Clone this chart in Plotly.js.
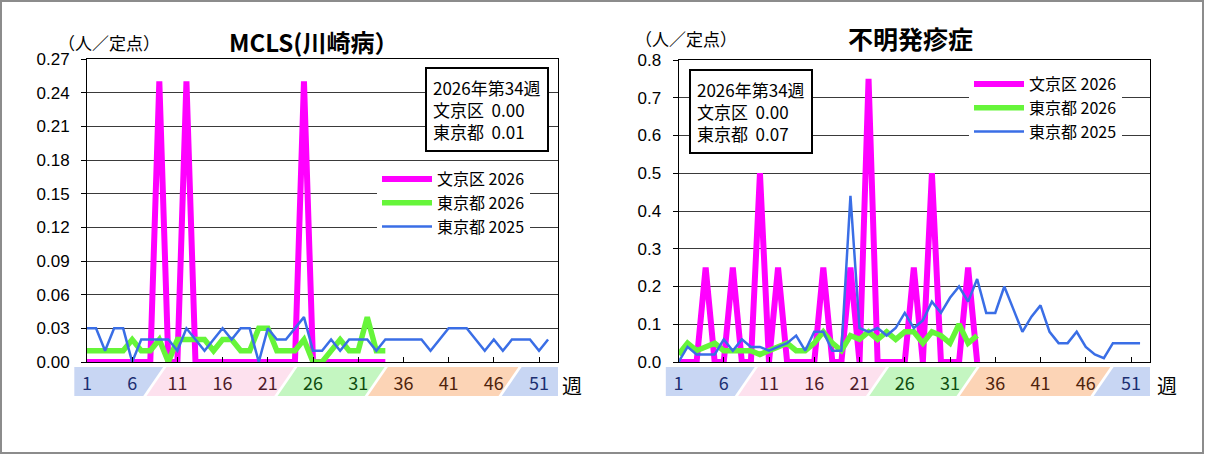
<!DOCTYPE html>
<html>
<head>
<meta charset="utf-8">
<script src="https://cdn.plot.ly/plotly-3.0.1.min.js"></script>
<style>
  html, body { margin: 0; padding: 0; background: #fff; }
  #chart { width: 1205px; height: 455px; }
</style>
</head>
<body>
<div id="chart"></div>
<script>
// ---------- data ----------
const weeks2025 = [1,2,3,4,5,6,7,8,9,10,11,12,13,14,15,16,17,18,19,20,21,22,23,24,25,26,
                   27,28,29,30,31,32,33,34,35,36,37,38,39,40,41,42,43,44,45,46,47,48,49,50,51,52];
const weeks2026 = [1,2,3,4,5,6,7,8,9,10,11,12,13,14,15,16,17,18,19,20,21,22,23,24,25,26,
                   27,28,29,30,31,32,33,34];

// MCLS (川崎病)
const mclsBunkyo2026 = [0,0,0,0,0,0,0,0,0.25,0,0,0.25,0,0,0,0,0,0,0,0,0,0,0,0,0.25,0,0,0,0,0,0,0,0,0];
const mclsTokyo2026 = [0.01,0.01,0.01,0.01,0.01,0.02,0.01,0.01,0.02,0.00,0.02,0.02,0.02,0.02,0.01,0.02,0.02,
                       0.01,0.01,0.03,0.03,0.01,0.01,0.01,0.02,0.00,0.00,0.01,0.02,0.01,0.01,0.04,0.01,0.01];
const mclsTokyo2025 = [0.03,0.03,0.01,0.03,0.03,0.00,0.02,0.02,0.02,0.02,0.01,0.03,0.02,0.01,0.02,0.03,0.02,
                       0.03,0.03,0.00,0.03,0.02,0.02,0.03,0.04,0.01,0.01,0.02,0.01,0.02,0.02,0.02,0.01,0.02,
                       0.02,0.02,0.02,0.02,0.01,0.02,0.03,0.03,0.03,0.02,0.01,0.02,0.01,0.02,0.02,0.02,0.01,0.02];

// 不明発疹症
const rashBunkyo2026 = [0,0,0,0.25,0,0,0.25,0,0,0.5,0,0.25,0,0,0,0,0.25,0,0,0.25,0,0.75,0,0,0,0,0.25,0,0.5,0,0,0,0.25,0];
const rashTokyo2026 = [0.02,0.05,0.03,0.04,0.05,0.03,0.03,0.03,0.03,0.02,0.03,0.04,0.05,0.03,0.03,0.05,0.08,
                       0.05,0.03,0.07,0.06,0.08,0.06,0.08,0.06,0.08,0.08,0.05,0.08,0.07,0.05,0.10,0.05,0.07];
const rashTokyo2025 = [0.00,0.04,0.02,0.02,0.02,0.06,0.03,0.06,0.04,0.04,0.03,0.04,0.05,0.07,0.03,0.08,0.08,
                       0.03,0.03,0.44,0.09,0.08,0.09,0.07,0.09,0.13,0.09,0.11,0.16,0.13,0.17,0.20,0.16,0.22,
                       0.13,0.13,0.20,0.14,0.08,0.12,0.15,0.08,0.05,0.05,0.08,0.04,0.02,0.01,0.05,0.05,0.05,0.05];

const seriesNames = ["文京区 2026", "東京都 2026", "東京都 2025"];
const tickWeeks = [1, 6, 11, 16, 21, 26, 31, 36, 41, 46, 51];
const infoWeek = "2026年第34週";
const mclsLatest = ["0.00", "0.01"];
const rashLatest = ["0.00", "0.07"];

// ---------- look ----------
const W = 1205, H = 455;
const FONT = '"Noto Sans CJK JP", "Liberation Sans", sans-serif';
const X_RANGE = [1, 53.1];
const lineStyles = [
  { color: "#ff00ff", width: 6 },
  { color: "#66f53a", width: 5.5 },
  { color: "#3a6ee6", width: 2.5 }
];
const tickColors = ["#1c2f72","#1c2f72","#4d1a2a","#4d1a2a","#4d1a2a","#0e4d10","#0e4d10",
                    "#4f230c","#4f230c","#4f230c","#1c2f72"];
// season bands under the week axis (in week units)
const bandEdges = [-0.4, 8.5, 23, 33, 47.8, 53.1];
const bandColors = ["#c8d6f3", "#fde1ee", "#c4f6c1", "#fcd4b6", "#c8d6f3"];

const panels = [
  { xa: "x",  ya: "y",  xd: [87 / W, 558 / W],    yd: [1 - 362 / H, 1 - 59 / H],
    yr: [0, 0.27], dt: 0.03, fmt: ".2f", legend: "legend" },
  { xa: "x2", ya: "y2", xd: [678.5 / W, 1150 / W], yd: [1 - 362 / H, 1 - 60 / H],
    yr: [0, 0.8], dt: 0.1, fmt: ".1f", legend: "legend2" }
];

function wkToPaper(p, wk) {
  return p.xd[0] + (wk - X_RANGE[0]) / (X_RANGE[1] - X_RANGE[0]) * (p.xd[1] - p.xd[0]);
}

// ---------- traces ----------
const panelData = [
  [mclsBunkyo2026, mclsTokyo2026, mclsTokyo2025],
  [rashBunkyo2026, rashTokyo2026, rashTokyo2025]
];
const traces = [];
panelData.forEach((set, pi) => {
  const p = panels[pi];
  set.forEach((vals, si) => {
    traces.push({
      type: "scatter",
      mode: "lines",
      x: si === 2 ? weeks2025 : weeks2026,
      y: vals,
      name: seriesNames[si],
      line: lineStyles[si],
      xaxis: p.xa,
      yaxis: p.ya,
      legend: p.legend,
      hoverinfo: "skip"
    });
  });
});

// ---------- shapes ----------
const shapes = [];
const bandBot = 1 - 396 / H, bandTop = 1 - 367 / H;
const slant = 1.1, gap = 0.18;
panels.forEach(p => {
  for (let i = 0; i < bandColors.length; i++) {
    const a = bandEdges[i], b = bandEdges[i + 1];
    const last = i === bandColors.length - 1;
    const lb = i === 0 ? a : a - slant + gap;
    const lt = i === 0 ? a : a + slant + gap;
    const rb = last ? b : b - slant - gap;
    const rt = last ? b : b + slant - gap;
    shapes.push({
      type: "path", xref: "paper", yref: "paper", layer: "below",
      path: `M${wkToPaper(p, lb)},${bandBot} L${wkToPaper(p, lt)},${bandTop} ` +
            `L${wkToPaper(p, rt)},${bandTop} L${wkToPaper(p, rb)},${bandBot} Z`,
      fillcolor: bandColors[i], line: { width: 0 }
    });
  }
});
// outer frame
shapes.push({ type: "rect", xref: "paper", yref: "paper", x0: 1 / W, x1: 1 - 2 / W, y0: 2 / H, y1: 1 - 1 / H,
  line: { color: "#8c8c8c", width: 2 }, fillcolor: "rgba(0,0,0,0)", layer: "above" });

// ---------- annotations ----------
const sp = "\u00a0\u00a0";
const annotations = [
  { text: "<b>MCLS(川崎病）</b>", x: 313 / W, y: 1 - 41 / H, font: { size: 24 } },
  { text: "<b>不明発疹症</b>", x: 910 / W, y: 1 - 38 / H, font: { size: 25 } },
  { text: "（人／定点）", x: 56 / W, y: 1 - 42 / H, xanchor: "left", font: { size: 17 } },
  { text: "（人／定点）", x: 633 / W, y: 1 - 38 / H, xanchor: "left", font: { size: 17 } },
  { text: "週", x: 572 / W, y: 1 - 385 / H, font: { size: 20 } },
  { text: "週", x: 1167 / W, y: 1 - 385 / H, font: { size: 20 } },
  { text: `${infoWeek}<br>文京区${sp}${mclsLatest[0]}<br>東京都${sp}${mclsLatest[1]}`,
    x: 425 / W, y: 1 - 67 / H, xanchor: "left", yanchor: "top", align: "left",
    bgcolor: "#fff", bordercolor: "#000", borderwidth: 2, borderpad: 6, font: { size: 17 } },
  { text: `${infoWeek}<br>文京区${sp}${rashLatest[0]}<br>東京都${sp}${rashLatest[1]}`,
    x: 689 / W, y: 1 - 69 / H, xanchor: "left", yanchor: "top", align: "left",
    bgcolor: "#fff", bordercolor: "#000", borderwidth: 2, borderpad: 6, font: { size: 17 } }
].map(a => Object.assign({ xref: "paper", yref: "paper", showarrow: false, xanchor: "center", yanchor: "middle" },
  a, { font: Object.assign({ family: FONT, color: "#000" }, a.font) }));

// ---------- layout ----------
const layout = {
  width: W, height: H,
  margin: { l: 0, r: 0, t: 0, b: 0 },
  paper_bgcolor: "#fff",
  plot_bgcolor: "#fff",
  font: { family: FONT, color: "#000", size: 16 },
  shapes: shapes,
  annotations: annotations,
  legend: { x: 377 / W, y: 1 - 162 / H, xanchor: "left", yanchor: "top", bgcolor: "#fff",
            font: { family: FONT, size: 16, color: "#000" }, itemwidth: 50 },
  legend2: { x: 969 / W, y: 1 - 67 / H, xanchor: "left", yanchor: "top", bgcolor: "#fff",
             font: { family: FONT, size: 16, color: "#000" }, itemwidth: 50 }
};

panels.forEach((p, i) => {
  const sfx = i === 0 ? "" : "2";
  layout["xaxis" + sfx] = {
    domain: p.xd, anchor: p.ya, range: X_RANGE,
    tickmode: "array", tickvals: tickWeeks,
    ticktext: tickWeeks.map((w, k) => `<span style="color:${tickColors[k]}">${w}</span>`),
    ticks: "inside", ticklen: 5, tickcolor: "#000",
    showline: true, linecolor: "#000", linewidth: 1, mirror: true,
    showgrid: false, zeroline: false,
    tickfont: { family: FONT, size: 18 }, ticklabelstandoff: 5, fixedrange: true
  };
  layout["yaxis" + sfx] = {
    domain: p.yd, anchor: p.xa, range: p.yr, tick0: 0, dtick: p.dt, tickformat: p.fmt,
    ticks: "outside", ticklen: 5, tickcolor: "#000",
    showgrid: true, gridcolor: "#3a3a3a", gridwidth: 1,
    showline: true, linecolor: "#000", linewidth: 1, mirror: true, zeroline: false,
    tickfont: { family: "Liberation Sans, sans-serif", size: 17 }, ticklabelstandoff: 8, fixedrange: true
  };
});

Plotly.newPlot("chart", traces, layout, { staticPlot: true });
</script>
</body>
</html>
